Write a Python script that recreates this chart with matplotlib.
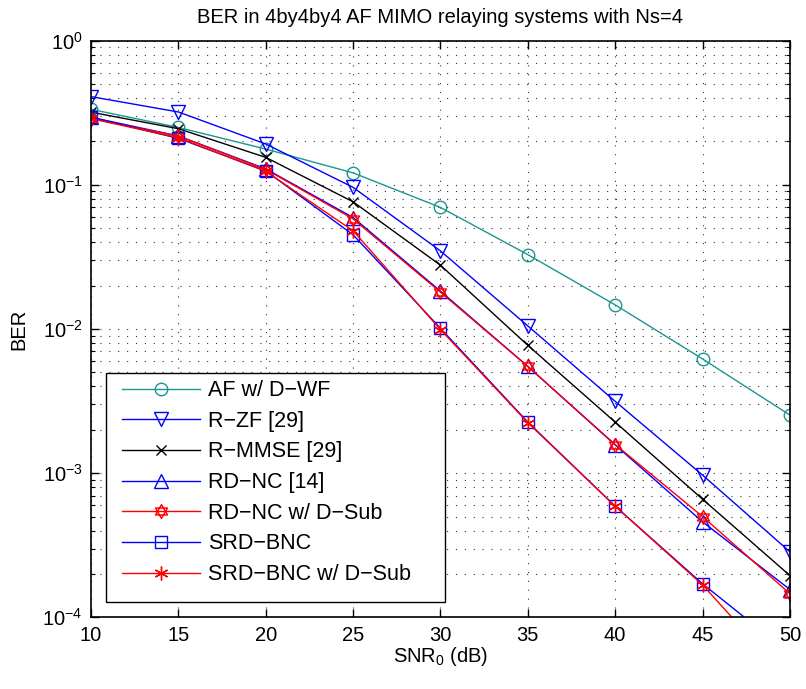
import matplotlib
matplotlib.use("Agg")
import matplotlib.pyplot as plt
from matplotlib.path import Path
from matplotlib.patches import Rectangle
from matplotlib.ticker import LogLocator, NullFormatter, FixedLocator

plt.rcParams['font.family'] = ['Liberation Sans', 'DejaVu Sans']
plt.rcParams['mathtext.default'] = 'regular'

# SNR0 (dB)
snr = [10, 15, 20, 25, 30, 35, 40, 45, 50]

# BER curves
ber_af_dwf = [0.334, 0.25, 0.177, 0.121, 0.0697, 0.0328, 0.0147, 0.0062, 0.00253]
ber_rzf = [0.409, 0.32, 0.192, 0.096, 0.0348, 0.0105, 0.00315, 0.00097, 0.000285]
ber_rmmse = [0.319, 0.245, 0.155, 0.0762, 0.0277, 0.0077, 0.00226, 0.00066, 0.000195]
ber_rdnc = [0.294, 0.218, 0.129, 0.0593, 0.0183, 0.0055, 0.00157, 0.00046, 0.000156]
ber_rdnc_dsub = [0.288, 0.218, 0.128, 0.058, 0.018, 0.0055, 0.00158, 0.0005, 0.000146]
ber_srd_bnc = [0.294, 0.21, 0.125, 0.045, 0.0101, 0.00226, 0.00059, 0.000171, 5.6e-05]
ber_srd_bnc_dsub = [0.288, 0.212, 0.124, 0.048, 0.0099, 0.00224, 0.00059, 0.000168, 3.6e-05]

labels = ['AF w/ D\u2212WF', 'R\u2212ZF [29]', 'R\u2212MMSE [29]', 'RD\u2212NC [14]',
          'RD\u2212NC w/ D\u2212Sub', 'SRD\u2212BNC', 'SRD\u2212BNC w/ D\u2212Sub']

# hexagram marker (matlab 'h'): two overlapping triangles
hexagram = Path(
    [(0, 1), (0.866, -0.5), (-0.866, -0.5), (0, 1),
     (0, -1), (0.866, 0.5), (-0.866, 0.5), (0, -1)],
    [Path.MOVETO, Path.LINETO, Path.LINETO, Path.CLOSEPOLY,
     Path.MOVETO, Path.LINETO, Path.LINETO, Path.CLOSEPOLY])

teal = '#1b9690'
styles = [
    (ber_af_dwf, teal, 'o', 9),
    (ber_rzf, '#0000ff', 'v', 10),
    (ber_rmmse, 'black', 'x', 7),
    (ber_rdnc, '#0000ff', '^', 10),
    (ber_rdnc_dsub, '#ff0000', hexagram, 10),
    (ber_srd_bnc, '#0000ff', 's', 8),
    (ber_srd_bnc_dsub, '#ff0000', (6, 2, 0), 10),
]

fig = plt.figure(figsize=(8.06, 6.89), dpi=100)
ax = fig.add_axes([0.113, 0.104, 0.867, 0.837])

for i, (vals, col, mk, ms) in enumerate(styles):
    ax.plot(snr, vals, color=col, lw=1.0, marker=mk, ms=ms,
            mfc='none', mec=col, mew=1.0, label=labels[i])

ax.set_yscale('log')
ax.set_xlim(10, 50)
ax.set_ylim(1e-4, 1)
ax.xaxis.set_major_locator(FixedLocator(snr))
ax.yaxis.set_major_locator(LogLocator(base=10, numticks=10))
ax.yaxis.set_minor_locator(LogLocator(base=10, subs=range(2, 10), numticks=20))
ax.yaxis.set_minor_formatter(NullFormatter())

ax.grid(True, which='major', axis='both', linestyle=(0, (1, 7)), color='0.2', lw=0.8)
ax.grid(True, which='minor', axis='y', linestyle=(0, (1, 7)), color='0.2', lw=0.8)

ax.tick_params(which='both', direction='in', top=True, right=True, labelsize=14.5)
ax.tick_params(which='major', length=6, width=1, pad=6)
ax.tick_params(which='minor', length=3, width=0.8)
for s in ax.spines.values():
    s.set_linewidth(1.2)

ax.set_title('BER in 4by4by4 AF MIMO relaying systems with Ns=4', fontsize=14.5, pad=13)
ax.set_xlabel('SNR$_0$ (dB)', fontsize=14.5, labelpad=0)
ax.set_ylabel('BER', fontsize=14.5, labelpad=10)

# matlab-style legend box: wider than its contents
box = Rectangle((0.0215, 0.0265), 0.485, 0.397, transform=ax.transAxes,
                facecolor='white', edgecolor='black', lw=1.0, zorder=4)
ax.add_patch(box)
leg = ax.legend(loc='upper left', bbox_to_anchor=(0.0443, 0.4115), borderaxespad=0,
                fontsize=15.5, handlelength=3.63, handletextpad=0.37, labelspacing=0.45,
                borderpad=0, frameon=False)
leg.set_zorder(5)

fig.savefig('out.png', dpi=100)
